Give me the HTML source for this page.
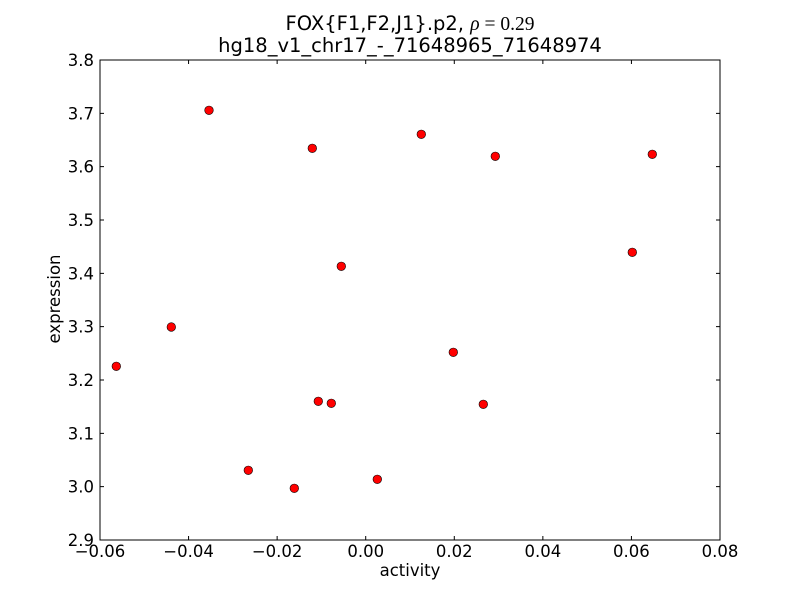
<!DOCTYPE html>
<html><head><meta charset="utf-8"><style>
html,body{margin:0;padding:0;background:#fff;}
svg{display:block;}
text{font-family:"DejaVu Sans","Liberation Sans",sans-serif;fill:#000;}
</style></head><body>
<svg width="800" height="600" viewBox="0 0 800 600" xmlns="http://www.w3.org/2000/svg">
<rect width="800" height="600" fill="#fff"/>
<g stroke="#000" stroke-width="1">
<path d="M188.57 540v-4M277.14 540v-4M365.71 540v-4M454.29 540v-4M542.86 540v-4M631.43 540v-4M188.57 60v4M277.14 60v4M365.71 60v4M454.29 60v4M542.86 60v4M631.43 60v4"/>
<path d="M100 486.67h4M100 433.33h4M100 380h4M100 326.67h4M100 273.33h4M100 220h4M100 166.67h4M100 113.33h4M720 486.67h-4M720 433.33h-4M720 380h-4M720 326.67h-4M720 273.33h-4M720 220h-4M720 166.67h-4M720 113.33h-4"/>
</g>
<g fill="#ff0000" stroke="#000" stroke-width="0.6">
<circle cx="116.3" cy="366.3" r="4.3"/>
<circle cx="171.3" cy="327" r="4.3"/>
<circle cx="209" cy="110.3" r="4.3"/>
<circle cx="248.3" cy="470.3" r="4.3"/>
<circle cx="294.3" cy="488.3" r="4.3"/>
<circle cx="312.3" cy="148.3" r="4.3"/>
<circle cx="318.3" cy="401.3" r="4.3"/>
<circle cx="331.3" cy="403.3" r="4.3"/>
<circle cx="341.3" cy="266.3" r="4.3"/>
<circle cx="377.3" cy="479.3" r="4.3"/>
<circle cx="421.3" cy="134.3" r="4.3"/>
<circle cx="453.3" cy="352.3" r="4.3"/>
<circle cx="483.3" cy="404.3" r="4.3"/>
<circle cx="495.3" cy="156.3" r="4.3"/>
<circle cx="632.3" cy="252.3" r="4.3"/>
<circle cx="652.3" cy="154.3" r="4.3"/>
</g>
<rect x="100" y="60" width="620" height="480" fill="none" stroke="#000" stroke-width="1"/>
<g font-size="16.5" text-anchor="middle">
<text x="100" y="557">−0.06</text>
<text x="188.57" y="557">−0.04</text>
<text x="277.14" y="557">−0.02</text>
<text x="365.71" y="557">0.00</text>
<text x="454.29" y="557">0.02</text>
<text x="542.86" y="557">0.04</text>
<text x="631.43" y="557">0.06</text>
<text x="720" y="557">0.08</text>
</g>
<g font-size="16.5" text-anchor="end">
<text x="94" y="546">2.9</text>
<text x="94" y="492.67">3.0</text>
<text x="94" y="439.33">3.1</text>
<text x="94" y="386">3.2</text>
<text x="94" y="332.67">3.3</text>
<text x="94" y="279.33">3.4</text>
<text x="94" y="226">3.5</text>
<text x="94" y="172.67">3.6</text>
<text x="94" y="119.33">3.7</text>
<text x="94" y="66">3.8</text>
</g>
<text x="410" y="576" font-size="16.5" text-anchor="middle">activity</text>
<text x="0" y="0" font-size="16.5" text-anchor="middle" transform="translate(60,299) rotate(-90)">expression</text>
<text x="410" y="30" font-size="19.5" text-anchor="middle">FOX{F1,F2,J1}.p2, <tspan font-family="'Liberation Serif','DejaVu Serif',serif" font-style="italic">ρ</tspan><tspan font-family="'Liberation Serif','DejaVu Serif',serif"> = 0.29</tspan></text>
<text x="410" y="52" font-size="19.5" text-anchor="middle">hg18_v1_chr17_-_71648965_71648974</text>
</svg>
</body></html>
